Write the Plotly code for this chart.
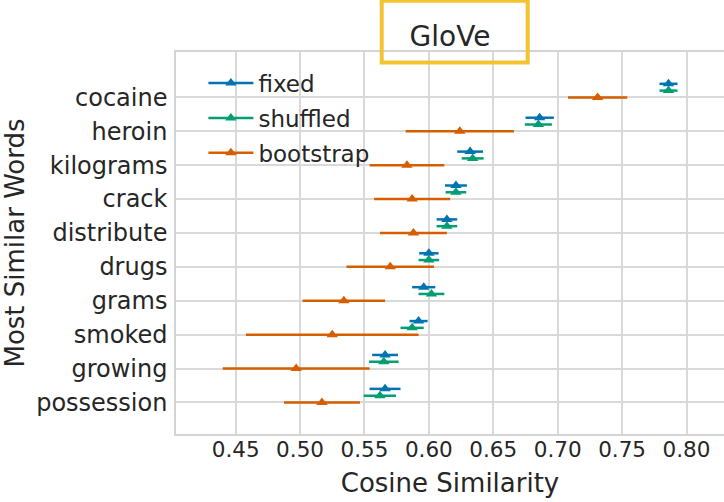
import plotly.graph_objects as go

words = ["cocaine", "heroin", "kilograms", "crack", "distribute",
         "drugs", "grams", "smoked", "growing", "possession"]
fixed_mean = [0.786, 0.686, 0.632, 0.621, 0.614, 0.600, 0.596, 0.592, 0.566, 0.566]
fixed_err = [0.007, 0.011, 0.010, 0.0085, 0.008, 0.0075, 0.009, 0.007, 0.010, 0.012]
shuffled_mean = [0.786, 0.685, 0.634, 0.621, 0.614, 0.600, 0.602, 0.587, 0.565, 0.562]
shuffled_err = [0.007, 0.0105, 0.0085, 0.008, 0.008, 0.008, 0.010, 0.009, 0.0115, 0.0125]
boot_mean = [0.731, 0.624, 0.583, 0.587, 0.588, 0.570, 0.534, 0.525, 0.497, 0.517]
boot_err = [0.023, 0.042, 0.029, 0.0295, 0.026, 0.034, 0.032, 0.067, 0.057, 0.0295]
x_ticks = [0.45, 0.50, 0.55, 0.60, 0.65, 0.70, 0.75, 0.80]

series = [
    ("fixed", fixed_mean, fixed_err, "#0173B2", -0.4),
    ("shuffled", shuffled_mean, shuffled_err, "#029E73", -0.2),
    ("bootstrap", boot_mean, boot_err, "#D55E00", 0.0),
]

FONT = "DejaVu Sans"
TXT = "#262626"
fig = go.Figure()
pos = list(range(len(words)))
for name, mean, err, color, off in series:
    fig.add_trace(go.Scatter(
        x=mean, y=[p + off for p in pos], mode="markers",
        marker=dict(symbol="triangle-up", size=10, color=color),
        error_x=dict(type="data", array=err, visible=True, color=color,
                     thickness=2.5, width=0),
        showlegend=False, hoverinfo="skip"))
    # legend-only entry (line + marker)
    fig.add_trace(go.Scatter(
        x=[None], y=[None], mode="lines+markers", name=name,
        legendgroup=name,
        line=dict(color=color, width=2.5),
        marker=dict(symbol="triangle-up", size=10, color=color)))

fig.update_layout(
    width=724, height=502,
    margin=dict(l=176, r=0, t=52, b=68),
    paper_bgcolor="white", plot_bgcolor="white",
    font=dict(family=FONT, color=TXT),
    title=dict(text="GloVe", x=0.5, xref="paper", xanchor="center",
               y=1 - 36 / 502, yref="container", yanchor="middle",
               font=dict(size=28, family=FONT, color=TXT)),
    showlegend=True,
    legend=dict(x=0.05, y=0.975, xanchor="left", yanchor="top",
                bgcolor="rgba(0,0,0,0)", font=dict(size=23, family=FONT, color=TXT),
                traceorder="grouped", tracegroupgap=2, itemwidth=45),
    xaxis=dict(range=[0.4037, 0.8291], tickvals=x_ticks,
               ticktext=["%.2f" % v for v in x_ticks],
               tickfont=dict(size=21.5, family=FONT, color=TXT),
               showgrid=True, gridcolor="#d9d9d9", gridwidth=1.5,
               showline=True, mirror=True, linecolor="#d4d4d4", linewidth=1.5,
               zeroline=False, ticks="", ticklabelstandoff=-5,
               title=dict(text="Cosine Similarity", standoff=13,
                          font=dict(size=26, family=FONT, color=TXT))),
    yaxis=dict(range=[9.932, -1.339], tickvals=pos, ticktext=words,
               tickfont=dict(size=24, family=FONT, color=TXT),
               showgrid=True, gridcolor="#d9d9d9", gridwidth=1.5,
               showline=True, mirror=False, linecolor="#d4d4d4", linewidth=1.5,
               zeroline=False, ticks="", ticklabelstandoff=2,
               title=dict(text="Most Similar Words", standoff=10,
                          font=dict(size=26, family=FONT, color=TXT))),
    shapes=[dict(type="rect", xref="paper", yref="paper",
                 x0=0.3754, x1=0.6418, y0=0.9728, y1=1.1343,
                 line=dict(color="#F4C430", width=4), fillcolor="rgba(0,0,0,0)",
                 layer="above")],
)

fig.write_html("out.html")
